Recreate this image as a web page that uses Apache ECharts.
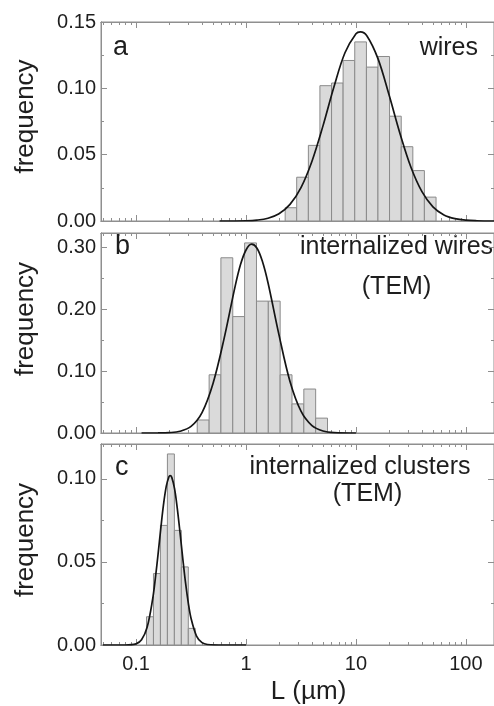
<!DOCTYPE html>
<html><head><meta charset="utf-8">
<script src="https://cdn.jsdelivr.net/npm/echarts@6/dist/echarts.min.js"></script>
<style>html,body{margin:0;padding:0;background:#fff}#c{width:494px;height:706px}</style>
</head><body><div id="c"></div>
<script>
// ---------- data (L in µm) ----------
const xRange = [0.048, 180];
const xTickValues = [0.1, 1, 10, 100];
const xTickLabels = ['0.1', '1', '10', '100'];

// panel a: wires
const edgesA = [2.27, 2.89, 3.69, 4.70, 6.00, 7.64, 9.75, 12.45, 15.85, 20.2, 25.8, 32.9, 41.9, 53.5];
const freqA  = [0.010, 0.033, 0.057, 0.102, 0.104, 0.121, 0.135, 0.116, 0.124, 0.079, 0.056, 0.038, 0.018];
const curveA = [[0.575,0],[1.0,0.0002],[1.259,0.0007],[1.585,0.0021],[1.995,0.0055],[2.512,0.0125],[3.162,0.0252],
  [3.981,0.0451],[5.012,0.0717],[6.31,0.1012],[7.943,0.1268],[10.0,0.1411],[10.96,0.1425],[12.59,0.1395],
  [15.85,0.1224],[19.95,0.0953],[25.12,0.0660],[31.62,0.0405],[39.81,0.0221],[50.12,0.0107],[63.1,0.0046],
  [79.43,0.0018],[100,0.0006],[125.9,0.0002],[180,0]];
const yTicksA = [0, 0.05, 0.10, 0.15];
const yMinorA = [0.025, 0.075, 0.125];
const yMaxA = 0.15;

// panel b: internalized wires (TEM)
const edgesB = [0.360, 0.462, 0.591, 0.758, 0.971, 1.245, 1.595, 2.044, 2.619, 3.356, 4.30, 5.51];
const freqB  = [0.021, 0.094, 0.283, 0.188, 0.307, 0.213, 0.213, 0.094, 0.047, 0.071, 0.024];
const curveB = [[0.1122,0],[0.1585,0.0001],[0.1995,0.0006],[0.2512,0.0028],[0.3162,0.0106],[0.3981,0.033],
  [0.5012,0.080],[0.631,0.152],[0.7943,0.236],[0.8913,0.272],[1.0,0.2955],[1.122,0.3049],[1.259,0.2984],
  [1.413,0.2765],[1.585,0.2426],[1.995,0.1585],[2.512,0.0833],[3.162,0.0352],[3.981,0.0119],[5.012,0.0033],
  [6.31,0.0007],[10.0,0]];
const yTicksB = [0, 0.10, 0.20, 0.30];
const yMinorB = [0.05, 0.15, 0.25];
const yMaxB = 0.323;

// panel c: internalized clusters (TEM)
const edgesC = [0.1245, 0.144, 0.1666, 0.1928, 0.2231, 0.2581, 0.2987, 0.3455];
const freqC  = [0.017, 0.043, 0.072, 0.115, 0.069, 0.047, 0.010];
const curveC = [[0.05,0],[0.0794,0],[0.1,0.0007],[0.1122,0.0031],[0.1259,0.0105],[0.1413,0.0273],[0.1496,0.0398],
  [0.1585,0.0546],[0.1679,0.0702],[0.1778,0.0846],[0.1884,0.0956],[0.1995,0.1014],[0.2043,0.1020],[0.2113,0.1009],
  [0.2239,0.0941],[0.2371,0.0823],[0.2512,0.0676],[0.2661,0.0520],[0.2818,0.0375],[0.2985,0.0254],[0.3162,0.0161],
  [0.3548,0.0054],[0.3981,0.0014],[0.4467,0.0003],[0.631,0],[1.0,0]];
const yTicksC = [0, 0.05, 0.10];
const yMinorC = [0.025, 0.075];
const yMaxC = 0.121;

const panelLetters = ['a', 'b', 'c'];
const yTitle = 'frequency';
const xTitle = 'L (µm)';

// ---------- build ----------
const FONT = '"Liberation Sans", Arial, Helvetica, sans-serif';
const FRAME = '#8f8f8f';
const TXT = '#1e1e1e';
const lg = Math.log10;
const lx0 = lg(xRange[0]), lx1 = lg(xRange[1]);
const majorLogs = xTickValues.map(lg);
const minorLogs = [];
for (let d = -2; d <= 2; d++) for (let k = 2; k <= 9; k++) {
  const v = lg(k * Math.pow(10, d));
  if (v > lx0 && v < lx1) minorLogs.push(v);
}
function fmtX(v) {
  const i = majorLogs.findIndex(m => Math.abs(m - v) < 1e-6);
  return i >= 0 ? xTickLabels[i] : '';
}

const panels = [
  {edges: edgesA, freq: freqA, curve: curveA, yt: yTicksA, ym: yMinorA, ymax: yMaxA, top: 22, h: 199, namePad: 10},
  {edges: edgesB, freq: freqB, curve: curveB, yt: yTicksB, ym: yMinorB, ymax: yMaxB, top: 233, h: 200, namePad: 28},
  {edges: edgesC, freq: freqC, curve: curveC, yt: yTicksC, ym: yMinorC, ymax: yMaxC, top: 444, h: 201, namePad: 9}
];

const grid = [], xAxis = [], yAxis = [], series = [];
panels.forEach((p, g) => {
  grid.push({left: 101, width: 395, top: p.top, height: p.h, show: true, borderColor: FRAME, borderWidth: 1, backgroundColor: 'transparent'});
  const xb = {gridIndex: g, type: 'value', min: lx0, max: lx1, splitLine: {show: false},
    axisLine: {show: true, onZero: false, lineStyle: {color: FRAME, width: 1}}};
  const last = g === panels.length - 1;
  xAxis.push(Object.assign({}, xb, {position: 'bottom',
    axisTick: {show: true, inside: true, length: 6, customValues: majorLogs, lineStyle: {color: FRAME}},
    axisLabel: {show: last, customValues: majorLogs, formatter: fmtX, margin: 9, fontSize: 20, color: TXT, fontFamily: FONT},
    name: last ? xTitle : '', nameLocation: 'middle', nameGap: 34,
    nameTextStyle: {fontSize: 26, color: TXT, fontFamily: FONT, padding: [0, 0, 0, 22]}}));
  xAxis.push(Object.assign({}, xb, {position: 'bottom',
    axisTick: {show: true, inside: true, length: 3, customValues: minorLogs, lineStyle: {color: FRAME}}, axisLabel: {show: false}}));
  xAxis.push(Object.assign({}, xb, {position: 'top',
    axisTick: {show: true, inside: true, length: 6, customValues: majorLogs, lineStyle: {color: FRAME}}, axisLabel: {show: false}}));
  xAxis.push(Object.assign({}, xb, {position: 'top',
    axisTick: {show: true, inside: true, length: 3, customValues: minorLogs, lineStyle: {color: FRAME}}, axisLabel: {show: false}}));

  const yb = {gridIndex: g, type: 'value', min: 0, max: p.ymax, splitLine: {show: false},
    axisLine: {show: true, onZero: false, lineStyle: {color: FRAME, width: 1}}};
  yAxis.push(Object.assign({}, yb, {position: 'left',
    axisTick: {show: true, inside: true, length: 6, customValues: p.yt, lineStyle: {color: FRAME}},
    axisLabel: {show: true, customValues: p.yt, formatter: v => v.toFixed(2), margin: 5, fontSize: 20, color: TXT, fontFamily: FONT},
    name: yTitle, nameLocation: 'middle', nameGap: 62,
    nameTextStyle: {fontSize: 26, color: TXT, fontFamily: FONT, padding: [0, 0, 0, p.namePad]}}));
  yAxis.push(Object.assign({}, yb, {position: 'left',
    axisTick: {show: true, inside: true, length: 3, customValues: p.ym, lineStyle: {color: FRAME}}, axisLabel: {show: false}}));
  yAxis.push(Object.assign({}, yb, {position: 'right',
    axisTick: {show: true, inside: true, length: 6, customValues: p.yt, lineStyle: {color: FRAME}}, axisLabel: {show: false}}));
  yAxis.push(Object.assign({}, yb, {position: 'right',
    axisTick: {show: true, inside: true, length: 3, customValues: p.ym, lineStyle: {color: FRAME}}, axisLabel: {show: false}}));

  const barData = p.freq.map((f, i) => [lg(p.edges[i]), lg(p.edges[i + 1]), f]);
  series.push({type: 'custom', xAxisIndex: g * 4, yAxisIndex: g * 4, data: barData, encode: {x: [0, 1], y: 2}, z: 2, clip: true,
    renderItem: function (params, api) {
      const a = api.coord([api.value(0), api.value(2)]);
      const b = api.coord([api.value(1), 0]);
      return {type: 'rect', shape: {x: a[0], y: a[1], width: b[0] - a[0], height: b[1] - a[1]},
        style: {fill: '#dadada', stroke: '#8a8a8a', lineWidth: 1}};
    }});
  series.push({type: 'line', xAxisIndex: g * 4, yAxisIndex: g * 4, data: p.curve.map(d => [lg(d[0]), d[1]]),
    showSymbol: false, smooth: 0.35, z: 3, clip: true,
    lineStyle: {color: '#151515', width: 1.7}});
});

const tstyle = (size, align) => ({fontSize: size, fontFamily: FONT, fill: TXT, textAlign: align, textVerticalAlign: 'middle'});
const graphic = [
  {type: 'text', x: 113, y: 47.5, style: Object.assign({text: panelLetters[0]}, tstyle(27, 'left'))},
  {type: 'text', x: 478, y: 48.5, style: Object.assign({text: 'wires'}, tstyle(25, 'right'))},
  {type: 'text', x: 115, y: 246.8, style: Object.assign({text: panelLetters[1]}, tstyle(27, 'left'))},
  {type: 'text', x: 396.5, y: 247.5, style: Object.assign({text: 'internalized wires'}, tstyle(25, 'center'))},
  {type: 'text', x: 396.5, y: 287.5, style: Object.assign({text: '(TEM)'}, tstyle(25, 'center'))},
  {type: 'text', x: 115, y: 467.5, style: Object.assign({text: panelLetters[2]}, tstyle(27, 'left'))},
  {type: 'text', x: 360, y: 467.5, style: Object.assign({text: 'internalized clusters'}, tstyle(25, 'center'))},
  {type: 'text', x: 367.5, y: 494, style: Object.assign({text: '(TEM)'}, tstyle(25, 'center'))}
];

const chart = echarts.init(document.getElementById('c'), null, {renderer: 'canvas'});
chart.setOption({animation: false, backgroundColor: '#fff', grid, xAxis, yAxis, series, graphic});
</script></body></html>
